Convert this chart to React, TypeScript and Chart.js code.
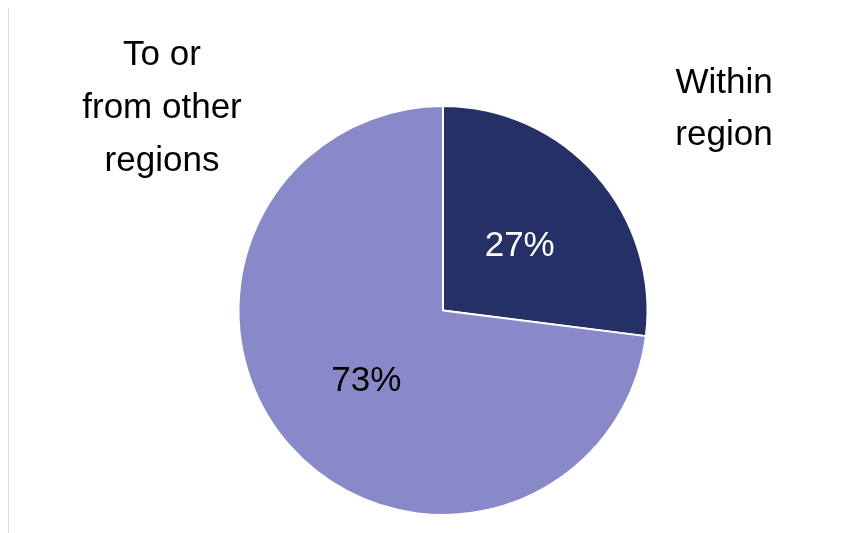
import React, { useEffect, useRef } from "react";
import { Chart, registerables } from "chart.js";

Chart.register(...registerables);

const categories = ["Within region", "To or from other regions"];
const values = [27, 73];
const sliceLabels = ["27%", "73%"];
const colors = ["#253166", "#8988C9"];
const labelColors = ["#ffffff", "#000000"];
const outerLines = [["Within", "region"], ["To or", "from other", "regions"]];

const labelsPlugin = {
  id: "customLabels",
  afterDatasetsDraw(chart: any) {
    const ctx = chart.ctx;
    const meta = chart.getDatasetMeta(0);
    ctx.save();
    // frame line on the left
    ctx.strokeStyle = "#dcdcdc";
    ctx.lineWidth = 1;
    ctx.beginPath();
    ctx.moveTo(8.5, 8);
    ctx.lineTo(8.5, 533);
    ctx.stroke();

    ctx.font = "35px 'Liberation Sans', Arial, sans-serif";
    ctx.textAlign = "center";
    ctx.textBaseline = "middle";
    meta.data.forEach((arc: any, i: number) => {
      const { x, y, startAngle, endAngle, outerRadius } = arc.getProps(
        ["x", "y", "startAngle", "endAngle", "outerRadius"],
        true
      );
      const mid = (startAngle + endAngle) / 2;
      const r = outerRadius * 0.5;
      ctx.fillStyle = labelColors[i];
      ctx.fillText(sliceLabels[i], x + Math.cos(mid) * r, y + Math.sin(mid) * r + 3);
    });

    const arc0 = meta.data[0];
    const cx = arc0.x;
    const cy = arc0.y;
    ctx.fillStyle = "#000000";
    ctx.textBaseline = "alphabetic";
    // Within region (right)
    outerLines[0].forEach((t, k) => {
      ctx.fillText(t, cx + 281, cy - 218 + k * 52);
    });
    // To or from other regions (left)
    outerLines[1].forEach((t, k) => {
      ctx.fillText(t, cx - 281, cy - 246 + k * 53);
    });
    ctx.restore();
  },
};

export default function App() {
  const ref = useRef<HTMLCanvasElement>(null);
  useEffect(() => {
    if (!ref.current) return;
    const chart = new Chart(ref.current, {
      type: "pie",
      data: {
        labels: categories,
        datasets: [
          {
            data: values,
            backgroundColor: colors,
            borderColor: "#ffffff",
            borderWidth: 2,
          },
        ],
      },
      options: {
        responsive: false,
        animation: false,
        layout: { padding: { top: 105, bottom: 17, left: 200, right: 178 } },
        plugins: {
          legend: { display: false },
          tooltip: { enabled: false },
        },
      },
      plugins: [labelsPlugin],
    });
    return () => chart.destroy();
  }, []);
  return (
    <div style={{ position: "absolute", left: 0, top: 0, width: 864, height: 533, background: "#ffffff" }}>
      <canvas ref={ref} width={864} height={533} style={{ display: "block" }} />
    </div>
  );
}
